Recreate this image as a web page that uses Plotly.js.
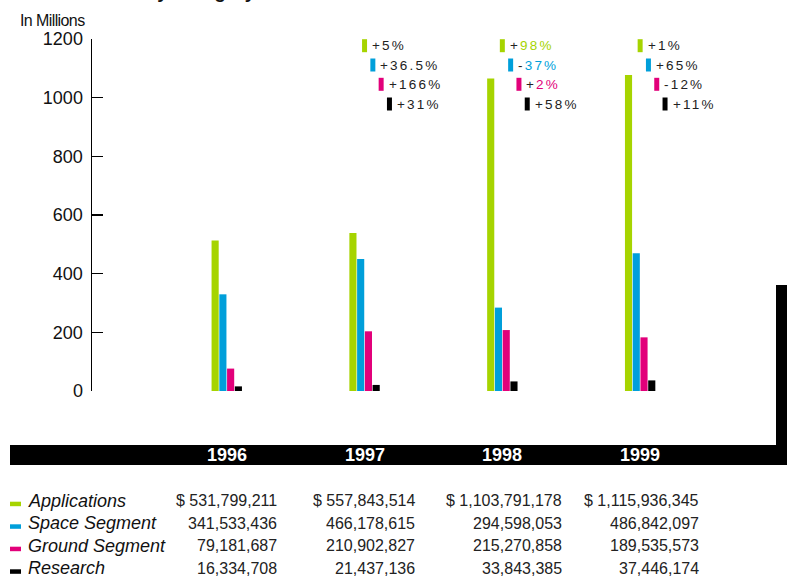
<!DOCTYPE html>
<html>
<head>
<meta charset="utf-8">
<script src="https://cdn.plot.ly/plotly-3.0.1.min.js"></script>
<style>html,body{margin:0;padding:0;background:#fff;}#chart{width:787px;height:578px;}</style>
</head>
<body>
<div id="chart"></div>
<script>
// ---- data ----
const years = ['1996', '1997', '1998', '1999'];
const seriesNames = ['Applications', 'Space Segment', 'Ground Segment', 'Research'];
const applications = [531799211, 557843514, 1103791178, 1115936345];
const spaceSegment = [341533436, 466178615, 294598053, 486842097];
const groundSegment = [79181687, 210902827, 215270858, 189535573];
const research = [16334708, 21437136, 33843385, 37446174];
const changeApplications = [null, '+5%', '+98%', '+1%'];
const changeSpace = [null, '+36.5%', '-37%', '+65%'];
const changeGround = [null, '+166%', '+2%', '-12%'];
const changeResearch = [null, '+31%', '+58%', '+11%'];
const highlightYear = '1998';
const yTicks = [0, 200, 400, 600, 800, 1000, 1200];

// ---- style ----
const colors = ['#a6d400', '#009fda', '#e2007a', '#000000'];
const series = [applications, spaceSegment, groundSegment, research];
const changes = [changeApplications, changeSpace, changeGround, changeResearch];

const L = 92, R = 11, T = 39, B = 187, W = 787, H = 578;
const pw = W - L - R, ph = H - T - B;
const px2x = p => (p - L) / pw;
const py2y = p => (H - B - p) / ph;

const traces = series.map((vals, j) => ({
  type: 'bar', x: years, y: vals.map(v => v / 1e6), name: seriesNames[j],
  xaxis: 'x', yaxis: 'y2',
  marker: {color: colors[j], line: {width: 0}},
  hoverinfo: 'skip', showlegend: false
}));
traces.push({type: 'scatter', x: [], y: [], xaxis: 'x', yaxis: 'y', showlegend: false, hoverinfo: 'skip'});

const shapes = [];
const annotations = [];

// percent change labels
const rowY = [45.7, 65, 84.3, 104];
years.forEach((yr, i) => {
  changes.forEach((arr, j) => {
    const c = arr[i];
    if (!c) return;
    const off = -2.5 + 8.3 * j;
    shapes.push({type: 'rect', xref: 'x', yref: 'paper', xsizemode: 'pixel', ysizemode: 'pixel',
      xanchor: i, x0: off, x1: off + 5, yanchor: py2y(rowY[j]), y0: -6.5, y1: 6.5,
      fillcolor: colors[j], line: {width: 0}});
    const sign = c[0], num = c.slice(1);
    const numColor = (yr === highlightYear && j < 3) ? colors[j] : '#222';
    annotations.push({xref: 'x', yref: 'paper', x: i, y: py2y(rowY[j]), xanchor: 'left', yanchor: 'middle',
      xshift: off + 8, showarrow: false,
      text: '<span style="letter-spacing:2.2px">' + sign + '<span style="color:' + numColor + '">' + num + '</span></span>',
      font: {family: 'Liberation Sans, Arial, sans-serif', size: 13.5, color: '#222'}});
  });
});

// black band and right bar
shapes.push({type: 'rect', xref: 'paper', yref: 'paper', x0: px2x(10), x1: px2x(790), y0: py2y(465), y1: py2y(445),
  fillcolor: '#000', line: {width: 0}, layer: 'above'});
shapes.push({type: 'rect', xref: 'paper', yref: 'paper', x0: px2x(776), x1: px2x(790), y0: py2y(465), y1: py2y(285),
  fillcolor: '#000', line: {width: 0}, layer: 'above'});

// year labels in band
years.forEach((yr, i) => {
  annotations.push({xref: 'x', yref: 'paper', x: i, y: py2y(455), xanchor: 'center', yanchor: 'middle', showarrow: false,
    text: '<b>' + yr + '</b>', font: {family: 'Liberation Sans, Arial, sans-serif', size: 18, color: '#fff'}});
});

// table
const tableRowY = [500.7, 523.3, 545.7, 568.3];
const colRight = [278, 416, 563, 700];
series.forEach((vals, j) => {
  shapes.push({type: 'rect', xref: 'paper', yref: 'paper', xsizemode: 'pixel', ysizemode: 'pixel',
    xanchor: px2x(10), x0: 0, x1: 11, yanchor: py2y(tableRowY[j]), y0: -5.5, y1: -1,
    fillcolor: colors[j], line: {width: 0}});
  annotations.push({xref: 'paper', yref: 'paper', x: px2x(26), y: py2y(tableRowY[j]), xanchor: 'left', yanchor: 'middle',
    showarrow: false, text: '<i>' + seriesNames[j] + '</i>',
    font: {family: 'Liberation Sans, Arial, sans-serif', size: 18, color: '#111'}});
  vals.forEach((v, i) => {
    annotations.push({xref: 'paper', yref: 'paper', x: px2x(colRight[i] + 1), y: py2y(tableRowY[j]), xanchor: 'right', yanchor: 'middle',
      showarrow: false, text: (j === 0 ? '$ ' : '') + v.toLocaleString('en-US'),
      font: {family: 'Liberation Sans, Arial, sans-serif', size: 16, color: '#222'}});
  });
});

// titles
annotations.push({xref: 'paper', yref: 'paper', x: px2x(18), y: py2y(20), xanchor: 'left', yanchor: 'middle', showarrow: false,
  text: '<span style="letter-spacing:-0.6px">In Millions</span>',
  font: {family: 'Liberation Sans, Arial, sans-serif', size: 16, color: '#111'}});
annotations.push({xref: 'paper', yref: 'paper', x: px2x(258), y: py2y(-8), xanchor: 'right', yanchor: 'middle', showarrow: false,
  text: '<b>Investment by Category</b>', font: {family: 'Liberation Sans, Arial, sans-serif', size: 19, color: '#111'}});

const layout = {
  width: W, height: H,
  margin: {l: L, r: R, t: T, b: B, pad: 0},
  paper_bgcolor: '#fff', plot_bgcolor: 'rgba(0,0,0,0)',
  barmode: 'group', bargap: 0.775, bargroupgap: 0.08,
  showlegend: false,
  xaxis: {type: 'category', range: [-0.978, 3.986], showgrid: false, zeroline: false, showline: false,
    showticklabels: false, ticks: '', fixedrange: true},
  yaxis: {range: [0, 1200], tickvals: yTicks, ticktext: yTicks.map(String), ticks: 'inside', ticklen: 11,
    tickwidth: 1.5, tickcolor: '#000', showline: true, linecolor: '#000', linewidth: 1.5,
    showgrid: false, zeroline: false, ticklabelstandoff: 4,
    tickfont: {family: 'Liberation Sans, Arial, sans-serif', size: 18, color: '#111'}},
  yaxis2: {overlaying: 'y', range: [0, 1200 / 0.965], visible: false, showgrid: false, zeroline: false},
  shapes: shapes,
  annotations: annotations,
  font: {family: 'Liberation Sans, Arial, sans-serif'}
};

Plotly.newPlot('chart', traces, layout, {displayModeBar: false, staticPlot: true});
</script>
</body>
</html>
